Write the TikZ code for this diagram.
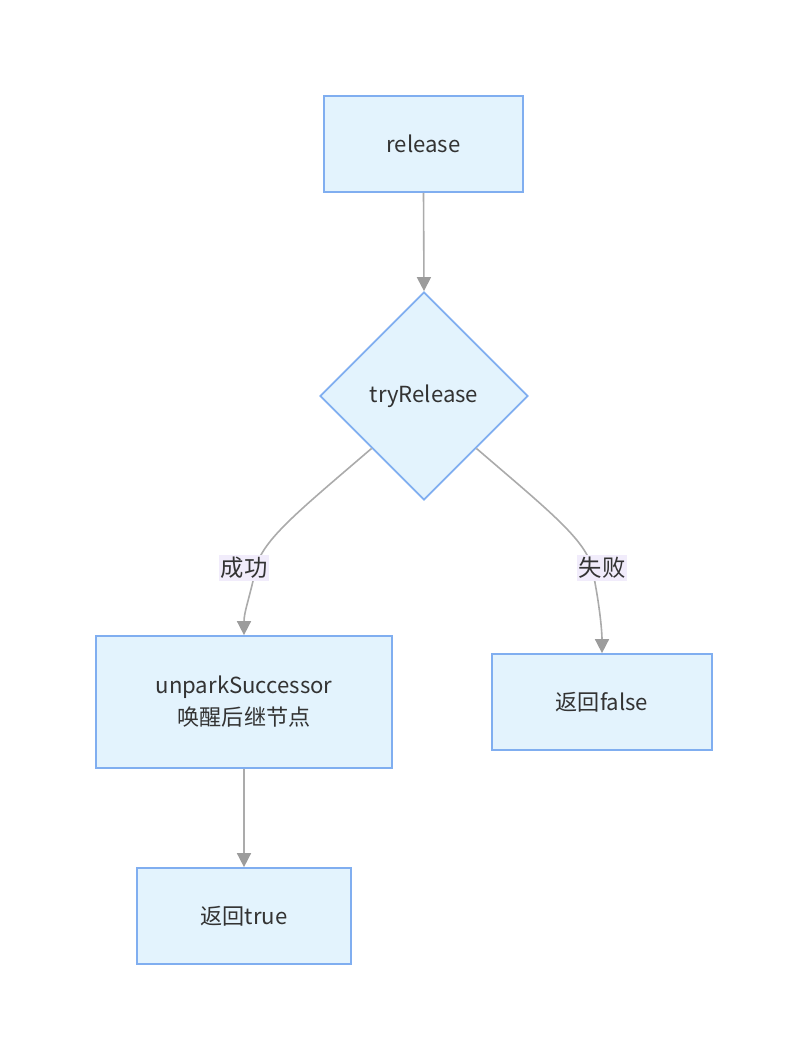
\documentclass[tikz,border=0pt]{standalone}
\usepackage{fontspec}
\setmainfont{Noto Sans CJK SC}
\usetikzlibrary{shapes.geometric,arrows.meta,calc}
\definecolor{nodefill}{HTML}{E3F3FD}
\definecolor{nodeline}{HTML}{80AEF0}
\definecolor{edgecol}{HTML}{ABABAB}
\definecolor{tipcol}{HTML}{9C9C9C}
\definecolor{lblfill}{HTML}{F1ECFB}
\definecolor{txt}{HTML}{333333}
\tikzset{
  box/.style={draw=nodeline, fill=nodefill, line width=1.3pt, inner sep=0pt, align=center, text=txt, font=\fontsize{16.6}{24}\selectfont},
  dia/.style={draw=nodeline, fill=nodefill, line width=1.3pt, diamond, inner sep=0pt, minimum width=156pt, minimum height=156pt, text=txt, font=\fontsize{16.6}{24}\selectfont},
  edge/.style={draw=edgecol, line width=1.2pt, -{Triangle[width=10.5pt,length=10.5pt,fill=tipcol,color=tipcol]}},
  lbl/.style={fill=lblfill, inner sep=1.5pt, text=txt, font=\fontsize{17.5}{22}\selectfont}
}
\begin{document}
\begin{tikzpicture}[x=0.75pt,y=-0.75pt]
\useasboundingbox (0,0) rectangle (808,1060);
\node[box, minimum width=149pt, minimum height=72pt] (rel) at (423.5,144) {release};
\node[dia] (try) at (424,396) {tryRelease};
\node[box, minimum width=222pt, minimum height=99pt] (unp) at (244,702) {unparkSuccessor\\唤醒后继节点};
\node[box, minimum width=165pt, minimum height=72pt] (rf) at (602,702) {返回false};
\node[box, minimum width=160.5pt, minimum height=72pt] (rt) at (244,916) {返回true};

\draw[edge] (rel.south) -- (try.north);
\coordinate (sl) at ($(try.west)!0.5!(try.south)$);
\coordinate (sr) at ($(try.east)!0.5!(try.south)$);
\draw[edge] (sl) .. controls (300,510) and (262,540) .. (256,568) .. controls (249,600) and (244,612) .. (unp.north);
\draw[edge] (sr) .. controls (548,510) and (586,540) .. (592,568) .. controls (599,600) and (602,630) .. (rf.north);
\draw[edge] (unp.south) -- (rt.north);
\node[lbl] (ls) at (244,568) {成功};
\node[lbl] (lf) at (602,568) {失败};
\end{tikzpicture}
\end{document}
